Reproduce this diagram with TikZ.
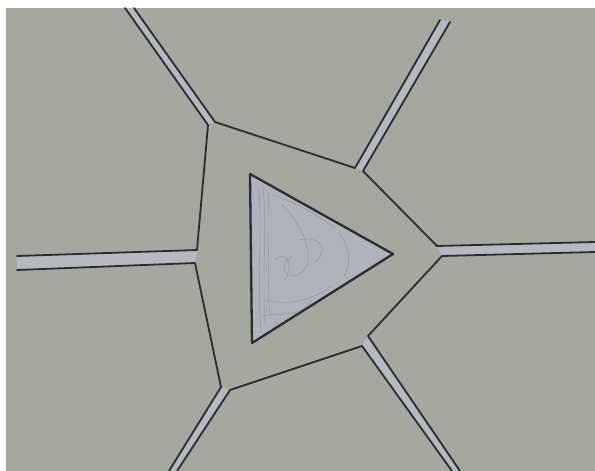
\documentclass[tikz,border=0pt]{standalone}
\begin{document}
\begin{tikzpicture}[x=1pt,y=-1pt,
  ink/.style={draw=inkc,line width=1.8pt,line join=round,line cap=round},
  roadfill/.style={fill=roadc},
  scrib/.style={draw=scribc,line width=0.45pt,opacity=0.45}]
\definecolor{bgc}{HTML}{A5A89E}
\definecolor{roadc}{HTML}{B6B9C0}
\definecolor{inkc}{HTML}{2A2C32}
\definecolor{tric}{HTML}{B0B3BB}
\definecolor{scribc}{HTML}{66708A}
\useasboundingbox (0,0) rectangle (595,471);
\fill[white] (0,0) rectangle (595,471);
\fill[bgc] (6,8) rectangle (595,471);
% coordinates
\coordinate (tlw) at (125,8);  \coordinate (tle) at (134,8);
\coordinate (v1w) at (208,125); \coordinate (v1e) at (215,122);
\coordinate (trw) at (440,20); \coordinate (tre) at (450,22);
\coordinate (v2w) at (355,168); \coordinate (v2e) at (363,171);
\coordinate (v3u) at (437,246); \coordinate (v3l) at (442,256);
\coordinate (ru) at (595,242); \coordinate (rl) at (595,252);
\coordinate (v4e) at (368,336); \coordinate (v4w) at (362,346);
\coordinate (bre) at (460,471); \coordinate (brw) at (452,471);
\coordinate (v5e) at (230,390); \coordinate (v5w) at (221,387);
\coordinate (ble) at (177,471); \coordinate (blw) at (169,471);
\coordinate (v6u) at (197,250); \coordinate (v6l) at (195,263);
\coordinate (lu) at (17,256); \coordinate (ll) at (17,270);
% road fills
\fill[roadfill] (tlw) -- (tle) -- (v1e) -- (v1w) -- cycle;
\fill[roadfill] (trw) -- (tre) -- (v2e) -- (v2w) -- cycle;
\fill[roadfill] (v3u) -- (ru) -- (rl) -- (v3l) -- cycle;
\fill[roadfill] (v4e) -- (bre) -- (brw) -- (v4w) -- cycle;
\fill[roadfill] (v5e) -- (ble) -- (blw) -- (v5w) -- cycle;
\fill[roadfill] (lu) -- (v6u) -- (v6l) -- (ll) -- cycle;
% outlines
\draw[ink] (lu) -- (v6u) -- (v1w) -- (tlw);
\draw[ink] (tle) -- (v1e) -- (v2w) -- (trw);
\draw[ink] (tre) -- (v2e) -- (v3u) -- (ru);
\draw[ink] (rl) -- (v3l) -- (v4e) -- (bre);
\draw[ink] (brw) -- (v4w) -- (v5e) -- (ble);
\draw[ink] (blw) -- (v5w) -- (v6l) -- (ll);
% triangle
\coordinate (ta) at (250,174); \coordinate (tb) at (393,254); \coordinate (tc) at (252,343);
\fill[tric] (ta) -- (tb) -- (tc) -- cycle;
\begin{scope}
\clip (ta) -- (tb) -- (tc) -- cycle;
\draw[scrib] (259,188) .. controls (262,240) and (257,280) .. (261,332);
\draw[scrib] (263,185) .. controls (267,230) and (262,270) .. (265,325);
\draw[scrib] (268,192) .. controls (271,235) and (266,275) .. (270,318);
\draw[scrib] (272,195) .. controls (290,200) and (310,210) .. (335,228);
\draw[scrib] (282,205) .. controls (300,222) and (318,258) .. (302,272) .. controls (288,283) and (275,268) .. (292,256);
\draw[scrib] (266,300) .. controls (290,306) and (312,300) .. (332,286);
\draw[scrib] (262,316) .. controls (285,312) and (300,318) .. (312,300);
\draw[scrib] (338,232) .. controls (350,246) and (352,262) .. (344,276);
\draw[scrib] (272,332) .. controls (276,316) and (286,320) .. (281,336);
\draw[scrib] (300,240) .. controls (320,235) and (330,250) .. (315,262);
\draw[scrib] (275,260) .. controls (285,250) and (295,262) .. (285,280);
\end{scope}
\draw[ink,line width=2.3pt] (ta) -- (tb) -- (tc) -- cycle;
\end{tikzpicture}
\end{document}
